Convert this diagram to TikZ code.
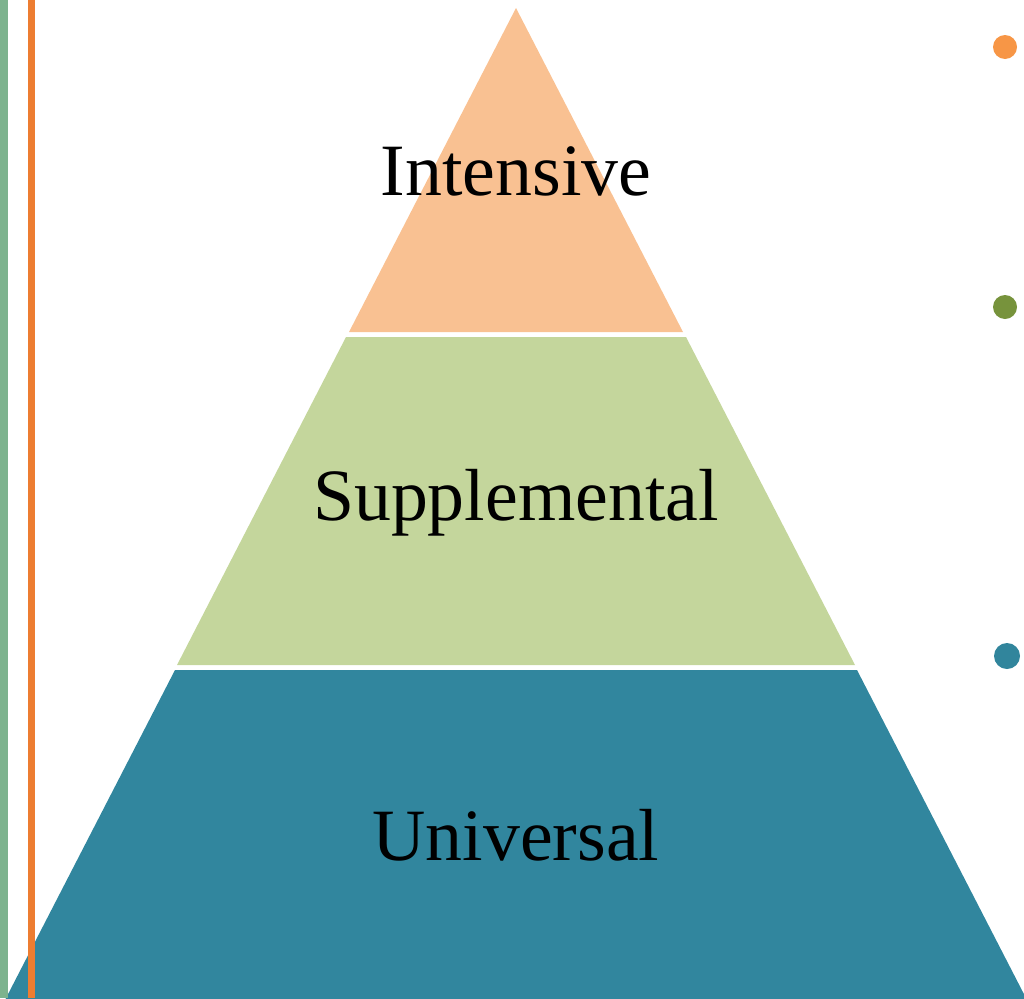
\documentclass[tikz,border=0pt]{standalone}
\usepackage{fontspec}
\setmainfont{Liberation Serif}
\definecolor{tierorange}{HTML}{F9C192}
\definecolor{tiergreen}{HTML}{C4D69C}
\definecolor{tierteal}{HTML}{31869E}
\definecolor{dotorange}{HTML}{F79646}
\definecolor{dotgreen}{HTML}{77933C}
\definecolor{dotteal}{HTML}{31859C}
\definecolor{bargreen}{HTML}{7DB38E}
\definecolor{barorange}{HTML}{ED7D31}
\tikzset{
  tierlabel/.style={font=\fontsize{42}{50}\selectfont, text=black, inner sep=0pt},
  bullet/.style={circle, inner sep=0pt, minimum size=0.48cm},
}
\begin{document}
\begin{tikzpicture}[x=0.02cm, y=-0.02cm]
\useasboundingbox (0,0) rectangle (1024,998);
\begin{scope}
\clip (0,0) rectangle (1024,998);
\fill[tierorange] (516,8) -- (683,332) -- (349,332) -- cycle;
\fill[tiergreen] (346,337) -- (686,337) -- (855,665) -- (177,665) -- cycle;
\fill[tierteal] (175,670) -- (857,670) -- (1027,1000) -- (5,1000) -- cycle;
\end{scope}
\node[tierlabel] (intensive) at (516,171) {Intensive};
\node[tierlabel] (supplemental) at (516,503) {Supplemental};
\node[tierlabel] (universal) at (516,835) {Universal};
\node[bullet, fill=dotorange] (dot1) at (1005,47) {};
\node[bullet, fill=dotgreen] (dot2) at (1005,307) {};
\node[bullet, fill=dotteal, minimum size=0.52cm] (dot3) at (1007,656) {};
\fill[bargreen] (0,0) rectangle (8,998);
\fill[barorange] (27.5,0) rectangle (35,998);
\end{tikzpicture}
\end{document}
